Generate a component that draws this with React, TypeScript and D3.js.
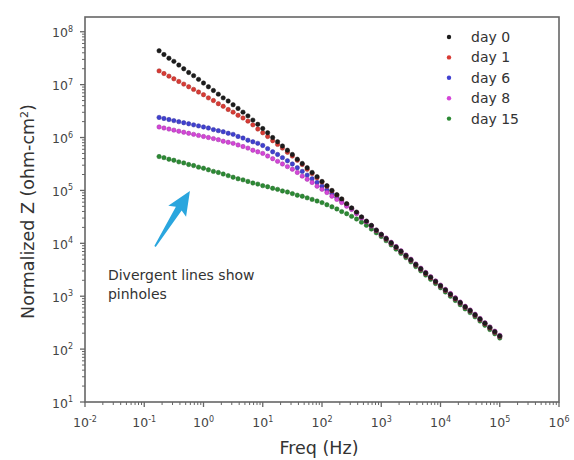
import React from 'react';
import * as d3 from 'd3';

// Frequencies (Hz), 12 points per decade
const freqHz = [
  0.178, 0.215, 0.261, 0.316, 0.383, 0.464, 0.562, 0.681, 0.825,
  1, 1.21, 1.47, 1.78, 2.15, 2.61, 3.16, 3.83, 4.64, 5.62, 6.81, 8.25,
  10, 12.1, 14.7, 17.8, 21.5, 26.1, 31.6, 38.3, 46.4, 56.2, 68.1, 82.5,
  100, 121, 147, 178, 215, 261, 316, 383, 464, 562, 681, 825,
  1000, 1210, 1470, 1780, 2150, 2610, 3160, 3830, 4640, 5620, 6810, 8250,
  10000, 12100, 14700, 17800, 21500, 26100, 31600, 38300, 46400, 56200, 68100, 82500,
  100000,
];

// log10 of normalized |Z| (ohm-cm^2)
const day0 = [
  7.64, 7.57, 7.50, 7.44, 7.37, 7.30, 7.23, 7.17, 7.10,
  7.03, 6.96, 6.89, 6.82, 6.75, 6.69, 6.62, 6.55, 6.48, 6.41, 6.33, 6.25,
  6.17, 6.09, 6.00, 5.92, 5.84, 5.76, 5.68, 5.59, 5.51, 5.43, 5.34, 5.26,
  5.17, 5.09, 5.00, 4.92, 4.84, 4.75, 4.67, 4.59, 4.50, 4.42, 4.34, 4.25,
  4.17, 4.09, 4.01, 3.93, 3.85, 3.77, 3.69, 3.60, 3.52, 3.44, 3.36, 3.28,
  3.20, 3.12, 3.04, 2.96, 2.88, 2.80, 2.73, 2.65, 2.57, 2.49, 2.41, 2.33,
  2.25,
];
const day1 = [
  7.26, 7.21, 7.16, 7.11, 7.06, 7.01, 6.96, 6.91, 6.86,
  6.81, 6.75, 6.70, 6.64, 6.59, 6.53, 6.48, 6.42, 6.37, 6.31, 6.24, 6.16,
  6.09, 6.02, 5.94, 5.87, 5.80, 5.72, 5.65, 5.57, 5.49, 5.40, 5.32, 5.24,
  5.16, 5.08, 4.99, 4.91, 4.83, 4.74, 4.66, 4.58, 4.49, 4.41, 4.33, 4.24,
  4.16, 4.08, 4.00, 3.92, 3.84, 3.76, 3.68, 3.59, 3.51, 3.43, 3.35, 3.27,
  3.19, 3.11, 3.03, 2.95, 2.87, 2.79, 2.72, 2.64, 2.56, 2.48, 2.40, 2.32,
  2.24,
];
const day6 = [
  6.38, 6.36, 6.34, 6.32, 6.30, 6.28, 6.26, 6.24, 6.22,
  6.20, 6.18, 6.15, 6.13, 6.11, 6.08, 6.06, 6.02, 5.99, 5.95, 5.92, 5.89,
  5.85, 5.79, 5.73, 5.68, 5.62, 5.56, 5.50, 5.43, 5.36, 5.29, 5.22, 5.15,
  5.08, 5.01, 4.94, 4.87, 4.80, 4.73, 4.66, 4.58, 4.49, 4.41, 4.33, 4.24,
  4.16, 4.08, 4.00, 3.92, 3.84, 3.76, 3.68, 3.59, 3.51, 3.43, 3.35, 3.27,
  3.19, 3.11, 3.03, 2.95, 2.87, 2.79, 2.72, 2.64, 2.56, 2.48, 2.40, 2.32,
  2.24,
];
const day8 = [
  6.20, 6.18, 6.16, 6.14, 6.12, 6.10, 6.08, 6.06, 6.04,
  6.02, 6.00, 5.98, 5.96, 5.93, 5.91, 5.89, 5.86, 5.83, 5.80, 5.76, 5.73,
  5.70, 5.65, 5.60, 5.55, 5.50, 5.45, 5.40, 5.34, 5.27, 5.21, 5.15, 5.08,
  5.02, 4.96, 4.89, 4.83, 4.77, 4.70, 4.64, 4.56, 4.48, 4.41, 4.33, 4.25,
  4.17, 4.10, 4.02, 3.94, 3.86, 3.78, 3.70, 3.61, 3.53, 3.45, 3.37, 3.29,
  3.21, 3.13, 3.05, 2.97, 2.89, 2.81, 2.74, 2.66, 2.58, 2.50, 2.42, 2.34,
  2.26,
];
const day15 = [
  5.64, 5.62, 5.59, 5.57, 5.54, 5.52, 5.49, 5.47, 5.44,
  5.42, 5.39, 5.36, 5.34, 5.31, 5.28, 5.25, 5.22, 5.20, 5.17, 5.14, 5.12,
  5.09, 5.07, 5.04, 5.02, 4.99, 4.97, 4.94, 4.91, 4.89, 4.86, 4.83, 4.80,
  4.77, 4.73, 4.69, 4.65, 4.60, 4.56, 4.51, 4.46, 4.40, 4.34, 4.27, 4.20,
  4.13, 4.05, 3.97, 3.89, 3.81, 3.73, 3.65, 3.56, 3.48, 3.40, 3.32, 3.24,
  3.16, 3.08, 3.00, 2.92, 2.84, 2.76, 2.69, 2.61, 2.53, 2.45, 2.37, 2.29,
  2.21,
];

const seriesNames = ['day 0', 'day 1', 'day 6', 'day 8', 'day 15'];
const seriesValues = [day0, day1, day6, day8, day15];
const seriesColors = ['#1c1c1c', '#d83a34', '#4040d0', '#d445d8', '#2c8a34'];
const drawOrder = [4, 2, 1, 3, 0];

const xTickExps = [-2, -1, 0, 1, 2, 3, 4, 5, 6];
const yTickExps = [1, 2, 3, 4, 5, 6, 7, 8];

// annotation (data coordinates)
const arrowTail = { f: 0.152, z: 8.7e3 };
const arrowTip = { f: 0.59, z: 9.8e4 };
const noteAnchor = { f: 0.0244, z: 2.04e3 };
const noteLines = ['Divergent lines show', 'pinholes'];

const W = 574;
const H = 460;
const PL = 85, PR = 559, PT = 17, PB = 402;
const FONT = 'DejaVu Sans, Verdana, sans-serif';
const AXIS = '#666';
const TXT = '#444';

export default function App() {
  const x = d3.scaleLog().domain([1e-2, 1e6]).range([PL, PR]);
  const y = d3.scaleLog().domain([10, 1.9e8]).range([PB, PT]);

  const xMinor: number[] = [];
  for (let e = -2; e < 6; e++) for (let m = 2; m <= 9; m++) xMinor.push(m * Math.pow(10, e));
  const yMinor: number[] = [];
  for (let e = 1; e < 9; e++) for (let m = 2; m <= 9; m++) {
    const v = m * Math.pow(10, e);
    if (v <= 1.9e8) yMinor.push(v);
  }

  // arrow polygon
  const tx = x(arrowTail.f), ty = y(arrowTail.z);
  const px = x(arrowTip.f), py = y(arrowTip.z);
  const len = Math.hypot(px - tx, py - ty);
  const dx = (px - tx) / len, dy = (py - ty) / len;
  const nx = -dy, ny = dx;
  const headLen = 21, headHalf = 10.5, shaftBase = 3.4, shaftTail = 0.8;
  const bx = px - dx * headLen, by = py - dy * headLen;
  const arrowPts = [
    [tx + nx * shaftTail, ty + ny * shaftTail],
    [bx + nx * shaftBase, by + ny * shaftBase],
    [bx + nx * headHalf - dx * 3, by + ny * headHalf - dy * 3],
    [px, py],
    [bx - nx * headHalf - dx * 3, by - ny * headHalf - dy * 3],
    [bx - nx * shaftBase, by - ny * shaftBase],
    [tx - nx * shaftTail, ty - ny * shaftTail],
  ].map((p) => p.join(',')).join(' ');

  const legendX = 449;
  const legendY0 = 37;
  const legendDY = 20.4;

  return (
    <svg width={W} height={H} style={{ position: 'absolute', left: 0, top: 0, background: '#fff' }}
      fontFamily={FONT}>
      <rect x={0} y={0} width={W} height={H} fill="#fff" />

      {/* data */}
      {drawOrder.map((si) => (
        <g key={si}>
          {seriesValues[si].map((lv, i) => (
            <circle key={i} cx={x(freqHz[i])} cy={y(Math.pow(10, lv))} r={2.2}
              fill={seriesColors[si]} stroke={d3.color(seriesColors[si])!.darker(0.8).toString()} strokeWidth={0.5} />
          ))}
        </g>
      ))}

      {/* frame */}
      <rect x={PL} y={PT} width={PR - PL} height={PB - PT} fill="none" stroke={AXIS} strokeWidth={1.6} />

      {/* x ticks */}
      {xTickExps.map((e) => (
        <line key={'xt' + e} x1={x(Math.pow(10, e))} x2={x(Math.pow(10, e))} y1={PB} y2={PB + 5} stroke={AXIS} strokeWidth={1.3} />
      ))}
      {xMinor.map((v, i) => (
        <line key={'xm' + i} x1={x(v)} x2={x(v)} y1={PB} y2={PB + 3} stroke={AXIS} strokeWidth={1} />
      ))}
      {xTickExps.map((e) => (
        <text key={'xl' + e} x={x(Math.pow(10, e))} y={427} textAnchor="middle" fontSize={12.5} fill={TXT}>
          10<tspan dy={-5.5} fontSize={8}>{e}</tspan>
        </text>
      ))}

      {/* y ticks */}
      {yTickExps.map((e) => (
        <line key={'yt' + e} y1={y(Math.pow(10, e))} y2={y(Math.pow(10, e))} x1={PL} x2={PL - 5} stroke={AXIS} strokeWidth={1.3} />
      ))}
      {yMinor.map((v, i) => (
        <line key={'ym' + i} y1={y(v)} y2={y(v)} x1={PL} x2={PL - 3} stroke={AXIS} strokeWidth={1} />
      ))}
      {yTickExps.map((e) => (
        <text key={'yl' + e} x={73} y={y(Math.pow(10, e)) + 5.5} textAnchor="end" fontSize={12.5} fill={TXT}>
          10<tspan dy={-5.5} fontSize={8}>{e}</tspan>
        </text>
      ))}

      {/* axis titles */}
      <text x={319} y={454} textAnchor="middle" fontSize={17.5} fill="#333">Freq (Hz)</text>
      <text transform={`translate(34,${(PT + PB) / 2 + 2}) rotate(-90)`} textAnchor="middle" fontSize={17.5} fill="#333">
        Normalized Z (ohm-cm<tspan dy={-6} fontSize={11}>2</tspan><tspan dy={6}>)</tspan>
      </text>

      {/* legend */}
      {seriesNames.map((name, i) => (
        <g key={'lg' + i}>
          <circle cx={legendX} cy={legendY0 + i * legendDY} r={2.2} fill={seriesColors[i]} />
          <text x={471} y={legendY0 + i * legendDY + 5} fontSize={14} fill="#333">{name}</text>
        </g>
      ))}

      {/* annotation */}
      <polygon points={arrowPts} fill="#2aa6de" />
      {noteLines.map((t, i) => (
        <text key={'n' + i} x={x(noteAnchor.f)} y={y(noteAnchor.z) + i * 19} fontSize={14} fill="#333">{t}</text>
      ))}
    </svg>
  );
}
